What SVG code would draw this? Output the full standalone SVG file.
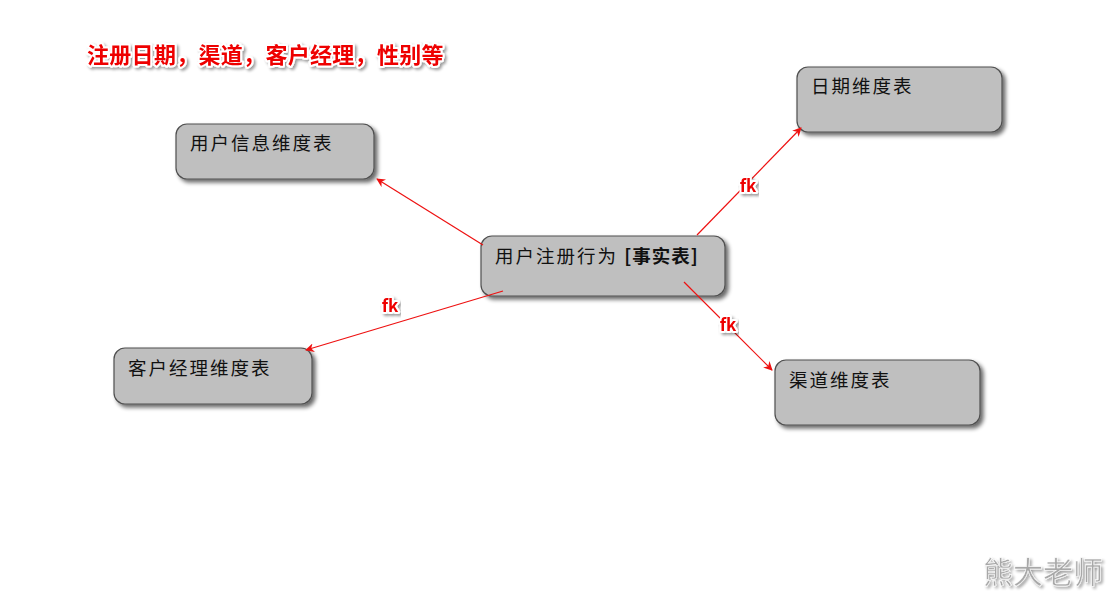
<svg xmlns="http://www.w3.org/2000/svg" width="1116" height="596" viewBox="0 0 1116 596">
<defs>
<filter id="sh" x="-10%" y="-10%" width="130%" height="140%">
<feGaussianBlur in="SourceAlpha" stdDeviation="2"/>
<feOffset dx="3" dy="3" result="b"/>
<feComponentTransfer><feFuncA type="linear" slope="0.6"/></feComponentTransfer>
<feMerge><feMergeNode/><feMergeNode in="SourceGraphic"/></feMerge>
</filter>
<filter id="tsh" x="-10%" y="-30%" width="120%" height="170%">
<feGaussianBlur in="SourceAlpha" stdDeviation="1.5"/>
<feOffset dx="1.5" dy="2"/>
<feComponentTransfer><feFuncA type="linear" slope="0.4"/></feComponentTransfer>
<feMerge><feMergeNode/><feMergeNode in="SourceGraphic"/></feMerge>
</filter>
<marker id="ah" viewBox="0 0 10 10" refX="9" refY="5" markerWidth="9" markerHeight="9" markerUnits="userSpaceOnUse" orient="auto">
<path d="M0,0 L10,5 L0,10 L3,5 z" fill="#ee1111"/>
</marker>
</defs>
<style>
.box{fill:#bfbfbf;stroke:#505050;stroke-width:1.2;filter:url(#sh)}
.lbl{font-family:"Noto Sans CJK SC","Noto Sans",sans-serif;font-size:18.5px;letter-spacing:2px;fill:#111}
.red{font-family:"Noto Sans CJK SC","Liberation Sans",sans-serif;font-weight:bold;fill:#e00;stroke:#fff;stroke-width:4;paint-order:stroke;stroke-linejoin:round;filter:url(#tsh)}
.con{stroke:#ee1111;stroke-width:1.2;fill:none;marker-end:url(#ah)}
</style>
<rect width="1116" height="596" fill="#fff"/>
<text class="red" x="87" y="63" font-size="22" letter-spacing="0.3">注册日期，渠道，客户经理，性别等</text>
<g id="node-user-info">
<rect class="box" x="176" y="124" width="198" height="55" rx="11"/>
<text class="lbl" x="190" y="150">用户信息维度表</text>
</g>
<g id="node-date">
<rect class="box" x="797" y="67" width="205" height="65" rx="11"/>
<text class="lbl" x="811" y="93">日期维度表</text>
</g>
<g id="node-fact">
<rect class="box" x="481" y="236" width="244" height="60" rx="11"/>
<text class="lbl" x="495" y="263">用户注册行为 <tspan font-weight="bold" letter-spacing="1">[事实表]</tspan></text>
</g>
<g id="node-manager">
<rect class="box" x="114" y="348" width="198" height="56" rx="11"/>
<text class="lbl" x="128" y="375">客户经理维度表</text>
</g>
<g id="node-channel">
<rect class="box" x="775" y="360" width="205" height="65" rx="11"/>
<text class="lbl" x="789" y="387">渠道维度表</text>
</g>
<g id="connectors">
<line class="con" x1="483" y1="245" x2="377" y2="179"/>
<line class="con" x1="697" y1="235" x2="801" y2="128"/>
<line class="con" x1="684" y1="282" x2="772" y2="370"/>
<line class="con" x1="503" y1="291" x2="306" y2="350"/>
<text class="red" x="748" y="192" font-size="17" text-anchor="middle">fk</text>
<text class="red" x="728" y="331" font-size="17" text-anchor="middle">fk</text>
<text class="red" x="390" y="312" font-size="17" text-anchor="middle">fk</text>
</g>
<text x="983" y="583" font-family="Noto Sans CJK SC,sans-serif" font-size="30" fill="#a8a8a8" stroke="#fff" stroke-width="0.5" filter="url(#tsh)">熊大老师</text>
</svg>
